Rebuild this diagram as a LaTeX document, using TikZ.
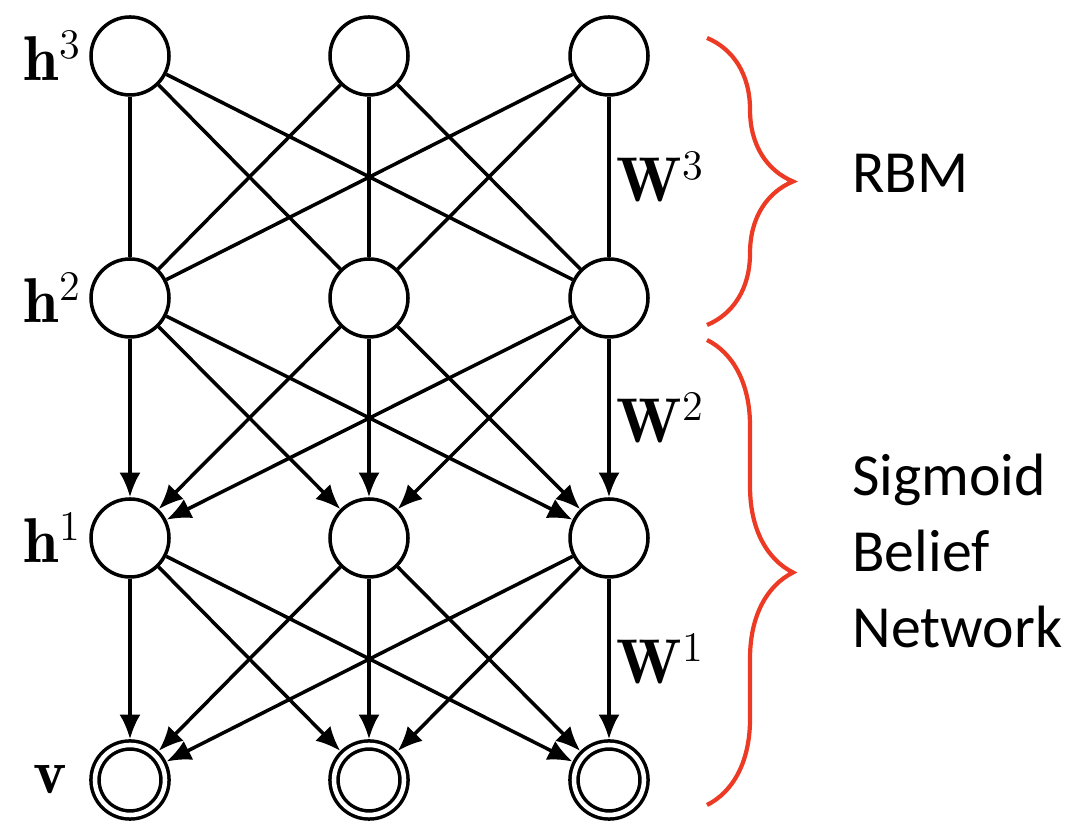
\documentclass[tikz,border=0pt]{standalone}
\usepackage{fontspec}
\newfontfamily\sidefont{Carlito}
\usetikzlibrary{arrows.meta,decorations.pathreplacing}
\definecolor{bracered}{RGB}{236,58,36}

\begin{document}
\begin{tikzpicture}[hidden unit/.style = {shape = circle, draw, line width = 1pt, minimum size = 0.78cm, inner sep = 0pt},visible unit/.style = {shape = circle, draw, line width = 1pt, double, double distance = 1.3pt, minimum size = 0.70cm, inner sep = 0pt, outer sep = 1.65pt},layer label/.style = {anchor = east, inner sep = 2pt, font = \fontsize{18}{22}\selectfont},weight label/.style = {right, inner sep = 2pt, font = \fontsize{18}{22}\selectfont},und edge/.style = {-, line width = 1pt},dir edge/.style = {-{Latex[length=7pt,width=6pt]}, line width = 1pt},red brace/.style = {decorate, decoration = {brace, amplitude = 0.86cm}, line width = 1.2pt, bracered},side text/.style = {anchor = west, align = left, font = \sidefont\fontsize{17}{21.5}\selectfont}]
\useasboundingbox (0,0) rectangle (10.72,8.24);
\node[hidden unit](3;1) at (1.30,7.68) {};
  \node[hidden unit](3;2) at (3.69,7.68) {};
  \node[hidden unit](3;3) at (6.09,7.68) {};
\node[hidden unit](2;1) at (1.30,5.26) {};
  \node[hidden unit](2;2) at (3.69,5.26) {};
  \node[hidden unit](2;3) at (6.09,5.26) {};
\node[hidden unit](1;1) at (1.30,2.86) {};
  \node[hidden unit](1;2) at (3.69,2.86) {};
  \node[hidden unit](1;3) at (6.09,2.86) {};
\node[visible unit](0;1) at (1.30,0.44) {};
  \node[visible unit](0;2) at (3.69,0.44) {};
  \node[visible unit](0;3) at (6.09,0.44) {};
\node[layer label](h3) at (3;1.west) {$\mathbf{h}^3$};
\node[layer label](h2) at (2;1.west) {$\mathbf{h}^2$};
\node[layer label](h1) at (1;1.west) {$\mathbf{h}^1$};
\node[layer label, xshift = -0.15cm](v) at (0;1.west) {$\mathbf{v}$};
\foreach \i in {1,2,3}
  \foreach \j in {1,2,3}
  { \draw[und edge] (3;\i) -- (2;\j); }
\foreach \i in {1,2,3}
  \foreach \j in {1,2,3}
  { \draw[dir edge] (2;\i) -- (1;\j); }
\foreach \i in {1,2,3}
  \foreach \j in {1,2,3}
  { \draw[dir edge] (1;\i) -- (0;\j); }
\path (3;3) -- node[weight label](W3) {$\mathbf{W}^3$} (2;3);
\path (2;3) -- node[weight label](W2) {$\mathbf{W}^2$} (1;3);
\path (1;3) -- node[weight label](W1) {$\mathbf{W}^1$} (0;3);
% braces on the right
\coordinate (rbm top) at (7.07,7.86);
\coordinate (rbm bottom) at (7.07,4.99);
\coordinate (sbn top) at (7.07,4.84);
\coordinate (sbn bottom) at (7.07,0.19);
\draw[red brace] (rbm top) -- (rbm bottom);
\draw[red brace] (sbn top) -- (sbn bottom);
\node[side text](rbm) at (8.40,6.51) {RBM};
\node[side text](sbn) at (8.40,2.73) {Sigmoid\\Belief\\Network};
\end{tikzpicture}
\end{document}
